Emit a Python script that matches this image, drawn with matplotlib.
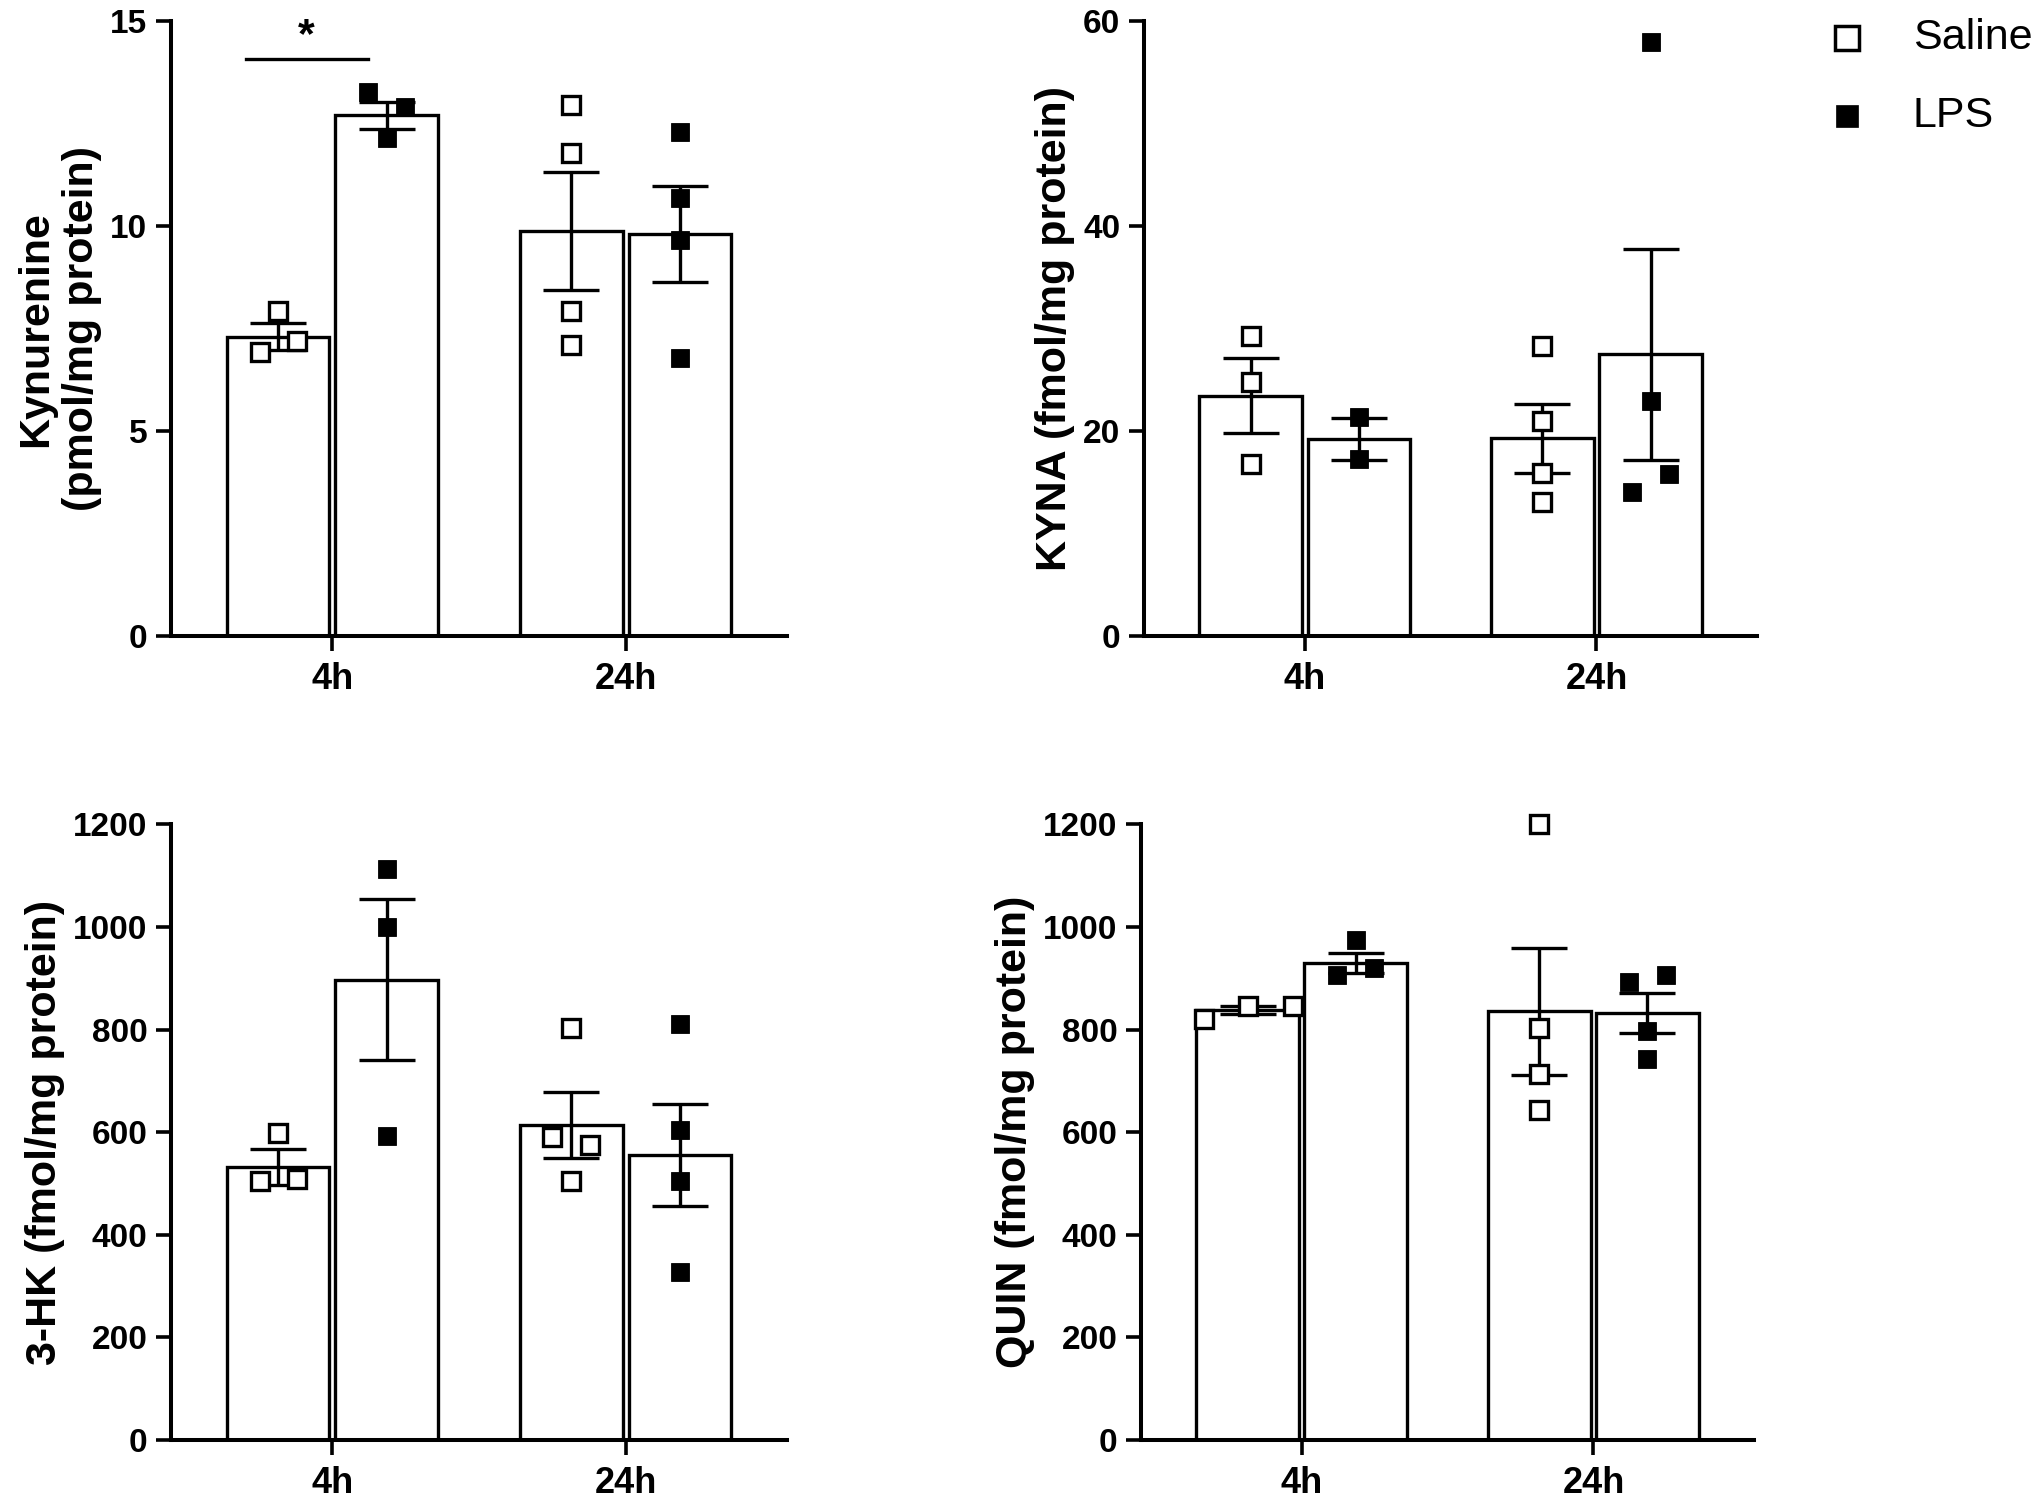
import numpy as np
import matplotlib
matplotlib.use("Agg")
import matplotlib.pyplot as plt
from matplotlib.lines import Line2D

plt.rcParams['font.family'] = ['Liberation Sans', 'DejaVu Sans']

groups = ["4h", "24h"]

# Kynurenine (pmol/mg protein)
kyn_saline_mean = [7.30, 9.88]
kyn_saline_sem = [0.33, 1.44]
kyn_lps_mean = [12.71, 9.80]
kyn_lps_sem = [0.33, 1.17]
kyn_saline_pts = [[7.92, 6.94, 7.21], [12.96, 11.79, 7.93, 7.10]]
kyn_lps_pts = [[13.27, 12.91, 12.15], [12.29, 10.69, 9.67, 6.78]]

# KYNA (fmol/mg protein)
kyna_saline_mean = [23.45, 19.3]
kyna_saline_sem = [3.65, 3.35]
kyna_lps_mean = [19.2, 27.5]
kyna_lps_sem = [2.05, 10.3]
kyna_saline_pts = [[29.3, 24.8, 16.8], [28.3, 21.0, 15.9, 13.1]]
kyna_lps_pts = [[21.4, 17.3], [58.0, 22.9, 15.8, 14.1]]

# 3-HK (fmol/mg protein)
hk_saline_mean = [532, 614]
hk_saline_sem = [35, 64]
hk_lps_mean = [897, 556]
hk_lps_sem = [157, 99]
hk_saline_pts = [[599, 504, 509], [804, 590, 576, 505]]
hk_lps_pts = [[1113, 1000, 593], [810, 605, 505, 327]]

# QUIN (fmol/mg protein)
quin_saline_mean = [839, 836]
quin_saline_sem = [8, 124]
quin_lps_mean = [930, 832]
quin_lps_sem = [20, 39]
quin_saline_pts = [[821, 846, 846], [1200, 804, 714, 643]]
quin_lps_pts = [[974, 906, 921], [893, 906, 798, 743]]

# horizontal scatter of the dots inside a bar (fraction of group spacing)
kyn_saline_jit = [[0, -0.063, 0.063], [0, 0, 0, 0]]
kyn_lps_jit = [[-0.063, 0.063, 0], [0, 0, 0, 0]]
kyna_saline_jit = [[0, 0, 0], [0, 0, 0, 0]]
kyna_lps_jit = [[0, 0], [0, 0, 0.063, -0.063]]
hk_saline_jit = [[0, -0.063, 0.063], [0, -0.065, 0.063, 0]]
hk_lps_jit = [[0, 0, 0], [0, 0, 0, 0]]
quin_saline_jit = [[-0.148, 0, 0.155], [0, 0, 0, 0]]
quin_lps_jit = [[0, -0.064, 0.062], [-0.064, 0.064, 0, 0]]

LW = 2.4
OFF = 0.185
W = 0.35


def draw_panel(ax, s_mean, s_sem, l_mean, l_sem, s_pts, l_pts, s_jit, l_jit,
               ymax, ystep, ylabel):
    x = np.arange(len(groups))
    ax.bar(x - OFF, s_mean, W, color='white', edgecolor='black', linewidth=LW, zorder=2)
    ax.bar(x + OFF, l_mean, W, color='white', edgecolor='black', linewidth=LW, zorder=2)
    ax.errorbar(x - OFF, s_mean, yerr=s_sem, fmt='none', ecolor='black',
                elinewidth=LW, capsize=20, capthick=LW, zorder=3)
    ax.errorbar(x + OFF, l_mean, yerr=l_sem, fmt='none', ecolor='black',
                elinewidth=LW, capsize=20, capthick=LW, zorder=3)
    for i in range(len(groups)):
        xs = [i - OFF + j for j in s_jit[i]]
        ax.plot(xs, s_pts[i], ls='none', marker='s', ms=13.5, mfc='white',
                mec='black', mew=2.4, zorder=4, clip_on=False)
        xl = [i + OFF + j for j in l_jit[i]]
        ax.plot(xl, l_pts[i], ls='none', marker='s', ms=12.5, mfc='black',
                mec='black', mew=0.6, zorder=4, clip_on=False)

    ax.set_xlim(-0.55, 1.55)
    ax.set_ylim(0, ymax)
    ax.set_yticks(np.arange(0, ymax + ystep / 2, ystep))
    ax.set_xticks(x)
    ax.set_xticklabels(groups)
    for s in ['top', 'right']:
        ax.spines[s].set_visible(False)
    for s in ['left', 'bottom']:
        ax.spines[s].set_linewidth(2.9)
    ax.tick_params(axis='y', length=11, width=2.6, labelsize=24, pad=6)
    ax.tick_params(axis='x', length=11, width=2.6, labelsize=26, pad=8)
    for t in ax.get_xticklabels() + ax.get_yticklabels():
        t.set_fontweight('bold')
    ax.set_ylabel(ylabel, fontsize=31, fontweight='bold', labelpad=6)


fig = plt.figure(figsize=(20.4, 15.02), dpi=100)
ax1 = fig.add_axes([0.0838, 0.5766, 0.302, 0.4092])
ax2 = fig.add_axes([0.5608, 0.5766, 0.3005, 0.4092])
ax3 = fig.add_axes([0.0838, 0.0413, 0.302, 0.4098])
ax4 = fig.add_axes([0.5593, 0.0413, 0.3005, 0.4098])

draw_panel(ax1, kyn_saline_mean, kyn_saline_sem, kyn_lps_mean, kyn_lps_sem,
           kyn_saline_pts, kyn_lps_pts, kyn_saline_jit, kyn_lps_jit,
           15, 5, "Kynurenine\n(pmol/mg protein)")
draw_panel(ax2, kyna_saline_mean, kyna_saline_sem, kyna_lps_mean, kyna_lps_sem,
           kyna_saline_pts, kyna_lps_pts, kyna_saline_jit, kyna_lps_jit,
           60, 20, "KYNA (fmol/mg protein)")
draw_panel(ax3, hk_saline_mean, hk_saline_sem, hk_lps_mean, hk_lps_sem,
           hk_saline_pts, hk_lps_pts, hk_saline_jit, hk_lps_jit,
           1200, 200, "3-HK (fmol/mg protein)")
draw_panel(ax4, quin_saline_mean, quin_saline_sem, quin_lps_mean, quin_lps_sem,
           quin_saline_pts, quin_lps_pts, quin_saline_jit, quin_lps_jit,
           1200, 200, "QUIN (fmol/mg protein)")

# significance marker, 4h Saline vs LPS
ax1.plot([-0.293, 0.121], [14.08, 14.08], color='black', lw=LW, clip_on=False)
ax1.text(-0.089, 14.15, "*", ha='center', va='bottom', fontsize=31,
         fontweight='bold', clip_on=False)

# legend
fig.add_artist(Line2D([0.9054], [0.9747], transform=fig.transFigure, marker='s',
                      ms=17.5, mfc='white', mec='black', mew=2.5, ls='none'))
fig.add_artist(Line2D([0.9054], [0.9228], transform=fig.transFigure, marker='s',
                      ms=15.5, mfc='black', mec='black', mew=0.5, ls='none'))
fig.text(0.9377, 0.9747, "Saline", fontsize=31, va='center', ha='left')
fig.text(0.9377, 0.9228, "LPS", fontsize=31, va='center', ha='left')

fig.savefig("out.png", dpi=100, facecolor='white')
